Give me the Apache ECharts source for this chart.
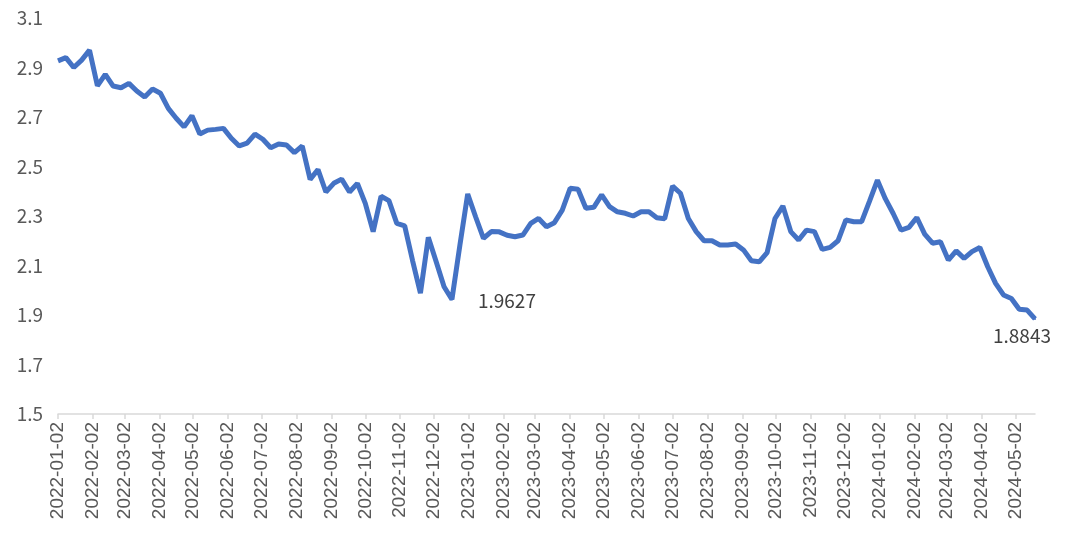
<!DOCTYPE html>
<html>
<head>
<meta charset="utf-8">
<script src="https://cdn.jsdelivr.net/npm/echarts@6/dist/echarts.min.js"></script>
<style>
  html, body { margin: 0; padding: 0; background: #fff; }
  #rateChart { width: 1065px; height: 537px; }
</style>
</head>
<body>
<div id="rateChart"></div>
<script>
// weekly observations, first week starts 2022-01-02
const startDate = '2022-01-02';
const rateValues = [
  2.927, 2.94, 2.90, 2.93, 2.97, 2.826, 2.872, 2.825, 2.818, 2.836,
  2.805, 2.781, 2.813, 2.796, 2.735, 2.695, 2.66, 2.705, 2.631, 2.647,
  2.650, 2.654, 2.614, 2.583, 2.594, 2.631, 2.61, 2.576, 2.591, 2.587,
  2.556, 2.583, 2.448, 2.488, 2.397, 2.432, 2.449, 2.397, 2.432, 2.351,
  2.237, 2.38, 2.362, 2.27, 2.26, 2.12, 1.988, 2.214, 2.115, 2.014,
  1.9627, 2.18, 2.389, 2.297, 2.21, 2.237, 2.236, 2.222, 2.216, 2.223,
  2.27, 2.29, 2.257, 2.273, 2.324, 2.412, 2.408, 2.331, 2.335, 2.385,
  2.338, 2.317, 2.311, 2.30, 2.317, 2.317, 2.293, 2.289, 2.421, 2.392,
  2.29, 2.237, 2.20, 2.20, 2.183, 2.183, 2.187, 2.163, 2.119, 2.115,
  2.152, 2.29, 2.34, 2.237, 2.203, 2.243, 2.237, 2.165, 2.173, 2.20,
  2.284, 2.277, 2.277, 2.36, 2.445, 2.37, 2.31, 2.243, 2.254, 2.294,
  2.227, 2.19, 2.196, 2.122, 2.159, 2.129, 2.156, 2.173, 2.095, 2.028,
  1.981, 1.967, 1.923, 1.92, 1.8843
];
const labelledPoints = [50, 124];
const tickLabels = [
  '2022-01-02', '2022-02-02', '2022-03-02', '2022-04-02', '2022-05-02', '2022-06-02',
  '2022-07-02', '2022-08-02', '2022-09-02', '2022-10-02', '2022-11-02', '2022-12-02',
  '2023-01-02', '2023-02-02', '2023-03-02', '2023-04-02', '2023-05-02', '2023-06-02',
  '2023-07-02', '2023-08-02', '2023-09-02', '2023-10-02', '2023-11-02', '2023-12-02',
  '2024-01-02', '2024-02-02', '2024-03-02', '2024-04-02', '2024-05-02'
];
const yTicks = [1.5, 1.7, 1.9, 2.1, 2.3, 2.5, 2.7, 2.9, 3.1];

const DAY = 24 * 3600 * 1000;
const toTime = s => Date.UTC(+s.slice(0, 4), +s.slice(5, 7) - 1, +s.slice(8, 10));
const t0 = toTime(startDate);
const seriesData = rateValues.map((v, i) => {
  const item = { value: [t0 + i * 7 * DAY, v] };
  if (i === labelledPoints[0]) {
    item.symbol = 'circle';
    item.label = { show: true, position: 'right', distance: 25, offset: [0, 1] };
  } else if (i === labelledPoints[1]) {
    item.symbol = 'circle';
    item.label = { show: true, position: 'bottom', distance: 6, offset: [-13, 0] };
  }
  return item;
});
const tickTimes = tickLabels.map(toTime);
const fmtDate = v => {
  const d = new Date(v);
  const p = n => String(n).padStart(2, '0');
  return d.getUTCFullYear() + '-' + p(d.getUTCMonth() + 1) + '-' + p(d.getUTCDate());
};

const rateChart = echarts.init(document.getElementById('rateChart'));

let rateOptions = {
  animation: false,
  grid: { left: 58, right: 30, top: 18, bottom: 123, containLabel: false },
  xAxis: {
    type: 'value',
    min: t0,
    max: t0 + (rateValues.length - 1) * 7 * DAY,
    splitLine: { show: false },
    axisLine: { lineStyle: { color: '#d9d9d9', width: 1.5 } },
    axisTick: { show: true, customValues: tickTimes, length: 5, lineStyle: { color: '#d9d9d9', width: 1.5 } },
    axisLabel: {
      customValues: tickTimes,
      rotate: 90,
      color: '#595959',
      fontSize: 19,
      fontFamily: 'Liberation Sans',
      margin: 8,
      formatter: fmtDate
    }
  },
  yAxis: {
    type: 'value',
    min: yTicks[0],
    max: yTicks[yTicks.length - 1],
    interval: 0.2,
    splitLine: { show: false },
    axisLine: { show: false },
    axisTick: { show: false },
    axisLabel: {
      color: '#595959',
      fontSize: 19,
      fontFamily: 'Noto Sans CJK SC',
      margin: 15,
      formatter: v => v.toFixed(1)
    }
  },
  series: [{
    type: 'line',
    data: seriesData,
    showSymbol: true,
    symbol: 'none',
    symbolSize: 2,
    lineStyle: { color: '#4472C4', width: 5 },
    itemStyle: { color: '#4472C4' },
    label: {
      show: false,
      color: '#404040',
      fontSize: 19,
      fontFamily: 'Noto Sans CJK SC',
      formatter: p => p.value[1].toFixed(4)
    }
  }]
};
rateChart.setOption(rateOptions);
</script>
</body>
</html>
